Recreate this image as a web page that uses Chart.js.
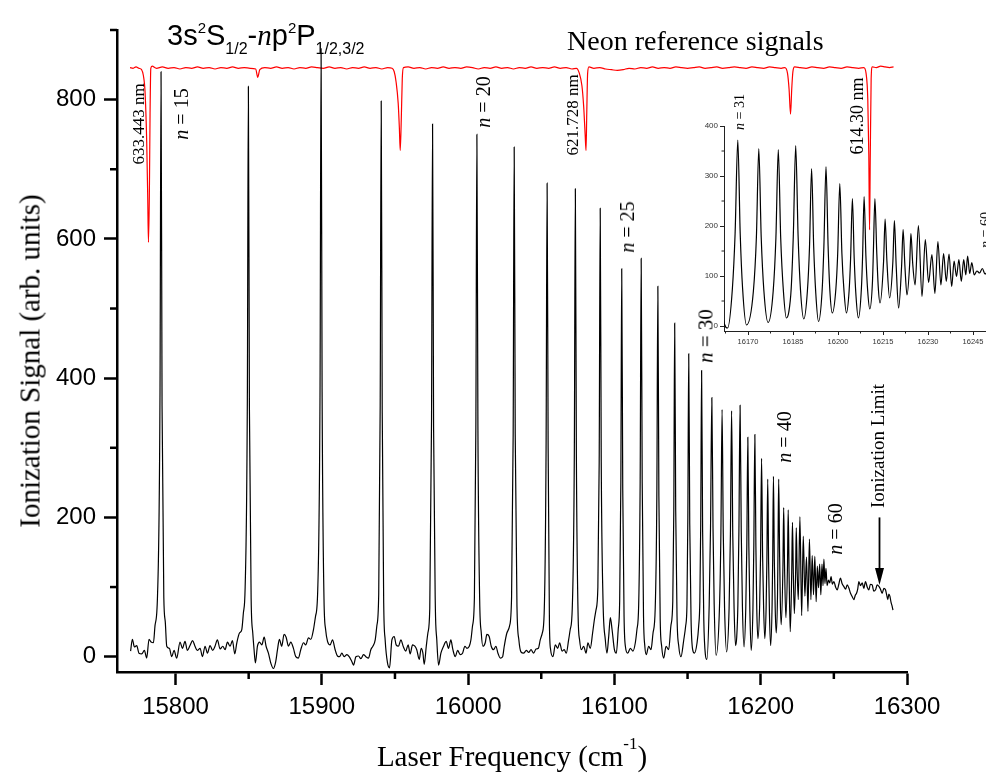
<!DOCTYPE html>
<html>
<head>
<meta charset="utf-8">
<script src="https://cdn.jsdelivr.net/npm/chart.js@4.4.1/dist/chart.umd.min.js"></script>
<style>
html,body{margin:0;padding:0;background:#fff;}
body{width:986px;height:774px;overflow:hidden;position:relative;}
canvas{position:absolute;}
#inset{left:690px;top:110px;}
#main{left:0;top:0;}
.lbl{position:absolute;white-space:nowrap;font-family:"Liberation Serif","Times New Roman",serif;color:#000;line-height:1;}
.sans{font-family:"Liberation Sans",Arial,sans-serif;}
.rot{transform:translate(-50%,-50%) rotate(-90deg);}
.sup{position:relative;}
.sub{position:relative;}
</style>
</head>
<body>
<canvas id="inset" width="322" height="250"></canvas>
<canvas id="main" width="986" height="774"></canvas>

<div class="lbl sans" style="left:167px;top:20.5px;font-size:29px">3s<span class="sup" style="font-size:15px;top:-12px">2</span>S<span class="sub" style="font-size:16px;top:9px">1/2</span>-<i style="font-family:'Liberation Serif',serif">n</i>p<span class="sup" style="font-size:15px;top:-12px">2</span>P<span class="sub" style="font-size:16px;top:9px">1/2,3/2</span></div>
<div class="lbl" style="left:567px;top:26.5px;font-size:28px">Neon reference signals</div>
<div class="lbl" style="left:512px;top:741.7px;font-size:29px;transform:translateX(-50%)">Laser Frequency (cm<span class="sup" style="font-size:17px;top:-17px">-1</span>)</div>
<div class="lbl rot" style="left:30px;top:361px;font-size:29px">Ionization Signal (arb. units)</div>

<div class="lbl rot" style="left:138px;top:124px;font-size:17px">633.443 nm</div>
<div class="lbl rot" style="left:181px;top:114px;font-size:20px"><i>n</i> = 15</div>
<div class="lbl rot" style="left:483px;top:102px;font-size:20px"><i>n</i> = 20</div>
<div class="lbl rot" style="left:572px;top:115px;font-size:17px">621.728 nm</div>
<div class="lbl rot" style="left:627px;top:227px;font-size:20px"><i>n</i> = 25</div>
<div class="lbl rot" style="left:706px;top:336px;font-size:21px"><i>n</i> = 30</div>
<div class="lbl rot" style="left:857px;top:116px;font-size:18px">614.30 nm</div>
<div class="lbl rot" style="left:740px;top:112px;font-size:14px"><i>n</i> = 31</div>
<div class="lbl rot" style="left:986px;top:230px;font-size:14px"><i>n</i> = 60</div>
<div class="lbl rot" style="left:784px;top:437px;font-size:20px"><i>n</i> = 40</div>
<div class="lbl rot" style="left:835px;top:529px;font-size:20px"><i>n</i> = 60</div>
<div class="lbl rot" style="left:877px;top:446px;font-size:19px">Ionization Limit</div>

<script>
// ---------------- data ----------------
// Ionization signal trace (laser frequency in cm^-1, signal in arb. units)
const freq = [
  15769.3,15770.5,15771.9,15773.5,15775.0,15776.9,15778.7,15780.3,15781.9,15783.3,15784.9,15786.0,15787.7,15789.4,15790.1,15790.8,15792.0,15793.0,15794.0,
  15795.8,15797.4,15799.0,15800.8,15803.1,15804.7,15806.5,15808.1,15809.9,15811.7,15813.3,15814.9,15816.8,15818.4,15820.2,15821.8,15823.6,15825.4,15827.0,15828.6,
  15830.5,15832.3,15833.9,15835.5,15837.3,15838.9,15840.5,15841.9,15843.7,15845.3,15846.4,15847.6,15849.1,15849.8,15850.5,15851.7,15852.8,15853.7,
  15854.6,15856.0,15857.4,15859.0,15860.6,15861.9,15863.5,15865.1,15866.9,15868.5,15869.7,15871.0,15872.6,15874.2,15875.6,15877.2,15878.8,15880.6,15882.2,15884.0,
  15885.6,15887.5,15889.0,15890.9,15892.5,15894.3,15895.7,15897.2,15898.8,15899.5,15900.2,15901.5,15902.6,15903.9,
  15905.7,15907.3,15909.1,15910.7,15912.1,15913.7,15915.3,15917.1,15918.7,15920.5,15921.7,15923.3,15925.1,15926.7,15928.5,15930.1,15931.9,15933.5,15934.9,15936.5,
  15937.6,15938.9,15939.9,15940.6,15941.3,15942.3,15943.3,15944.9,15946.3,
  15947.9,15949.5,15950.8,15952.4,15954.0,15955.8,15957.4,15959.0,15960.4,15962.0,15963.6,15964.9,15966.6,15967.9,15969.1,15970.0,15971.4,15972.5,
  15973.8,15975.0,15975.7,15976.4,15977.6,15978.6,15979.8,
  15981.4,15983.2,15985.0,15986.6,15988.2,15989.6,15991.2,15992.8,15994.6,15996.2,15997.8,15999.2,16000.8,16001.9,16003.0,
  16004.3,16005.3,16006.0,16006.7,16007.9,16009.0,
  16010.1,16011.7,16012.8,16014.4,16015.8,16017.4,16019.0,16020.4,16022.0,16023.6,16024.7,16026.5,16028.3,
  16029.7,16030.8,16031.5,16032.2,16033.4,16034.7,
  16036.1,16037.9,16039.8,16041.4,16043.0,16044.8,16046.4,16048.0,16049.3,16050.7,16052.0,
  16053.3,16054.0,16054.7,16055.6,16056.4,
  16058.0,16059.6,16061.2,16062.6,16064.2,16065.7,16067.1,16068.7,16069.8,16071.2,
  16072.6,16073.3,16074.0,16075.2,16076.2,
  16077.4,16079.0,16080.6,16081.9,16083.5,16085.1,16086.3,16087.4,16088.7,
  16089.6,16090.3,16091.0,16092.2,16093.8,
  16094.9,16096.1,16097.2,16098.4,16100.0,16101.3,16102.6,16103.6,
  16104.4,16105.0,16105.7,16106.6,16107.5,
  16109.1,16110.9,16112.7,16114.3,16115.4,16116.6,
  16117.6,16118.3,16119.0,16119.9,16120.8,
  16121.8,16123.4,16125.0,16126.4,16127.9,
  16129.0,16129.7,16130.4,16131.3,16132.3,
  16133.7,16135.3,16137.1,16138.6,16139.9,
  16140.6,16141.2,16141.9,16142.8,16144.0,
  16145.5,16147.4,16148.7,16149.6,
  16150.2,16150.8,16151.5,16152.4,16153.5,
  16154.7,16156.5,16157.6,16158.4,
  16159.0,16159.6,16160.3,16161.1,16162.2,16163.2,
  16164.8,16165.7,16166.6,16167.4,16168.2,16169.5,
  16171.8,16172.8,16173.6,16174.4,16175.3,16176.7,
  16178.4,16179.3,16180.1,16180.9,16181.8,16182.8,16183.6,
  16184.4,16185.1,16185.9,16186.7,16187.5,16188.6,
  16189.8,16190.5,16191.2,16191.9,16192.6,16193.5,
  16194.7,16195.3,16196.0,16196.7,16197.3,16198.1,
  16199.3,16199.9,16200.6,16201.3,16202.0,16202.8,
  16203.7,16204.2,16204.8,16205.4,16206.0,16206.8,
  16207.8,16208.2,16208.7,16209.3,16209.9,16210.6,
  16211.5,16211.8,16212.3,16212.9,16213.4,16214.0,
  16215.2,16215.7,16216.3,16217.2,
  16218.3,16218.8,16219.4,16220.2,
  16221.2,16221.7,16222.3,16223.0,
  16223.9,16224.3,16224.9,16225.7,
  16226.8,16228.0,16229.1,16230.2,16231.3,16232.3,16233.3,16234.3,16235.2,16236.1,
  16237.0,16237.9,16238.7,16239.5,16240.3,16241.1,16241.9,16242.6,16243.2,16243.9,16244.6,
  16245.4,16246.3,16247.2,16248.1,16249.0,16250.0,16251.2,16252.3,16253.4,16254.5,16255.6,16256.8,16258.0,16259.1,16260.2,16261.4,16262.6,16263.7,16264.6,16265.5,
  16266.3,16267.1,16268.2,16269.4,16270.5,16271.6,16272.8,16273.9,16275.0,16276.2,16277.3,16278.5,16279.6,16280.8,16281.9,16283.0,16284.2,16285.3,16286.2,16286.9,16287.6,16288.3,16289.1,16289.9,16290.4
];
const signal = [
  8,25,14,16,5,4,9,-2,25,21,20,45,88,380,840,360,85,50,15,
  12,0,9,-2,21,12,22,9,16,23,15,9,12,0,15,5,16,9,15,24,
  11,15,10,21,15,23,4,20,34,39,63,100,370,819,360,82,34,10,
  -9,15,21,17,28,15,5,-9,-17,-7,10,25,15,32,28,15,21,12,0,-2,
  10,20,17,27,25,39,58,95,390,873,380,82,39,22,
  17,24,10,1,0,5,0,3,0,-7,-12,0,1,-3,3,0,-2,10,15,24,
  44,90,360,798,350,77,24,-9,-16,
  24,29,17,15,24,14,8,17,4,17,15,10,-4,12,5,-11,15,34,
  70,340,765,330,72,24,-12,
  5,15,22,12,24,10,0,9,3,5,15,12,15,24,44,
  85,330,750,330,82,34,
  15,20,32,29,15,10,15,5,-2,0,15,34,44,
  85,320,732,320,72,24,
  7,5,9,6,10,5,11,12,24,34,63,
  300,680,300,45,10,
  0,17,12,20,8,10,5,24,39,70,
  290,672,290,58,24,
  10,15,5,20,12,34,53,67,100,
  280,644,280,82,24,
  5,29,56,39,10,5,39,80,
  250,557,240,58,15,
  5,12,8,20,39,75,
  250,572,250,58,15,
  3,15,10,34,70,
  230,532,230,53,15,
  -2,15,10,44,80,
  210,479,210,58,15,
  0,24,44,75,
  200,435,190,53,10,
  5,20,44,80,
  190,411,180,53,3,-4,
  75,185,372,185,75,2,
  70,178,355,178,70,7,
  70,176,353,176,70,16,28,
  75,180,361,180,72,14,
  70,158,315,158,65,9,
  70,160,319,160,70,26,
  75,145,285,145,70,26,
  70,135,255,135,60,16,
  75,140,259,140,70,34,
  90,150,255,150,80,46,
  130,214,130,56,
  130,211,120,36,
  120,193,120,62,
  125,185,125,82,
  201,59,173,87,143,65,169,82,145,89,
  144,79,130,99,133,89,133,102,140,105,127,
  102,110,106,115,104,108,100,96,104,113,105,101,97,103,99,91,86,82,88,91,
  97,108,102,106,98,108,100,96,104,103,94,96,103,101,97,91,98,96,88,82,90,87,78,72,67
];

// Neon reference (optogalvanic) signal
const neonFreq = [
  15768.9,15771.0,15773.0,15775.0,15776.8,15778.0,15779.2,15780.3,15781.0,15781.5,15782.1,15782.6,15783.1,15784.0,
  15787.0,15791.0,15795.0,15799.0,15803.0,15807.0,15811.0,15815.0,15819.0,15823.0,15827.0,15831.0,15835.0,15839.0,15843.0,15847.0,15851.0,15854.8,15856.2,15857.6,
  15861.0,15865.0,15869.0,15873.0,15877.0,15881.0,15885.0,15889.0,15893.0,15897.0,15901.0,15905.0,15909.0,15913.0,15917.0,15921.0,15925.0,15929.0,15933.0,15937.0,15941.0,15945.0,
  15948.0,15949.5,15950.8,15952.2,15953.0,15953.6,15954.3,15955.0,15955.8,
  15959.0,15963.0,15967.0,15971.0,15975.0,15979.0,15983.0,15987.0,15991.0,15995.0,15999.0,16003.0,16007.0,16011.0,16015.0,16019.0,16023.0,16027.0,16031.0,16035.0,16039.0,16043.0,16047.0,16051.0,16055.0,16059.0,16063.0,16067.0,16071.0,16074.0,
  16076.0,16077.8,16079.0,16080.0,16080.6,16081.1,16081.7,16082.6,
  16086.0,16090.0,16094.0,16098.0,16102.0,16106.0,16110.0,16114.0,16118.0,16122.0,16126.0,16130.0,16134.0,16138.0,16142.0,16146.0,16150.0,16154.0,16158.0,16162.0,16166.0,16170.0,16174.0,16178.0,16182.0,16186.0,16190.0,16194.0,16198.0,16202.0,16206.0,16210.0,16214.0,16216.5,
  16218.3,16219.4,16220.4,16221.2,16222.0,16223.2,
  16227.0,16231.0,16235.0,16239.0,16243.0,16247.0,16251.0,16255.0,16259.0,16263.0,16267.0,16270.5,
  16272.0,16273.2,16273.9,16274.4,16274.9,16275.5,16276.3,
  16279.0,16282.0,16285.0,16288.0,16290.8
];
const neonSignal = [
  846,845,847,845,843,835,810,740,660,595,660,780,845,848,
  845,847,845,846,844,846,845,847,845,846,844,846,845,847,845,846,845,844,832,843,
  846,845,847,845,846,844,846,845,847,846,845,847,845,846,844,846,845,847,845,846,844,846,
  845,840,825,795,760,727,770,830,846,
  847,845,846,844,846,845,847,845,846,845,847,846,844,846,845,847,845,846,844,846,845,847,845,846,845,847,845,846,844,845,
  838,820,790,750,727,780,838,847,
  845,846,844,843,842,843,845,844,846,845,847,845,846,845,847,846,845,846,847,845,846,847,845,846,847,846,845,847,846,845,847,846,845,846,
  838,815,779,815,840,847,
  846,845,847,846,845,847,846,845,847,846,845,846,
  838,800,720,613,720,830,847,
  846,848,847,846,847
];

// axes / ticks
const xTicks = [15800, 15900, 16000, 16100, 16200, 16300];
const xMinor = [15850, 15950, 16050, 16150, 16250];
const yTicks = [0, 200, 400, 600, 800];
const yMinor = [100, 300, 500, 700, 900];
const insetXTicks = [16170, 16185, 16200, 16215, 16230, 16245];
const insetXMinor = [16162.5, 16177.5, 16192.5, 16207.5, 16222.5, 16237.5, 16252.5];
const insetYTicks = [0, 100, 200, 300, 400];
const insetYMinor = [50, 150, 250, 350];
const ionizationLimit = 16281.2;

// ---------------- chart ----------------
const pairs = (xs, ys) => xs.slice(0, Math.min(xs.length, ys.length)).map((x, i) => ({x: x, y: ys[i]}));
const trace = pairs(freq, signal);
const neon = pairs(neonFreq, neonSignal);
const SANS = '"Liberation Sans", Arial, sans-serif';

const minorTicks = {
  id: 'minorTicks',
  afterDraw(chart, args, o) {
    const ctx = chart.ctx, xs = chart.scales.x, ys = chart.scales.y, a = chart.chartArea;
    ctx.save();
    ctx.strokeStyle = o.color; ctx.lineWidth = o.width;
    (o.x || []).forEach(v => {
      const p = xs.getPixelForValue(v);
      ctx.beginPath(); ctx.moveTo(p, a.bottom); ctx.lineTo(p, a.bottom + o.len); ctx.stroke();
    });
    (o.y || []).forEach(v => {
      const p = ys.getPixelForValue(v);
      ctx.beginPath(); ctx.moveTo(a.left, p); ctx.lineTo(a.left - o.len, p); ctx.stroke();
    });
    ctx.restore();
  }
};

const arrow = {
  id: 'arrow',
  afterDatasetsDraw(chart, args, o) {
    if (!o || o.x === undefined) return;
    const ctx = chart.ctx, xs = chart.scales.x, ys = chart.scales.y;
    const px = xs.getPixelForValue(o.x), y1 = ys.getPixelForValue(o.from), y2 = ys.getPixelForValue(o.to);
    ctx.save();
    ctx.strokeStyle = '#000'; ctx.fillStyle = '#000'; ctx.lineWidth = o.width;
    ctx.beginPath(); ctx.moveTo(px, y1); ctx.lineTo(px, y2 - o.head + 1); ctx.stroke();
    ctx.beginPath(); ctx.moveTo(px - o.half, y2 - o.head); ctx.lineTo(px + o.half, y2 - o.head); ctx.lineTo(px, y2); ctx.closePath(); ctx.fill();
    ctx.restore();
  }
};

new Chart(document.getElementById('main'), {
  type: 'line',
  data: {
    datasets: [
      {data: trace, borderColor: '#000', borderWidth: 1.2, pointRadius: 0, cubicInterpolationMode: 'monotone', fill: false},
      {data: neon, borderColor: '#ff0000', borderWidth: 1.2, pointRadius: 0, cubicInterpolationMode: 'monotone', fill: false}
    ]
  },
  options: {
    responsive: false, animation: false, devicePixelRatio: 1, parsing: false,
    layout: {padding: {top: 30, right: 79, left: 0, bottom: 0}},
    plugins: {
      legend: {display: false}, tooltip: {enabled: false},
      minorTicks: {x: xMinor, y: yMinor, len: 7, width: 2.5, color: '#000'},
      arrow: {x: ionizationLimit, from: 200, to: 103, head: 17, half: 4.5, width: 1.8}
    },
    scales: {
      x: {
        type: 'linear', min: 15760, max: 16300,
        afterBuildTicks: s => { s.ticks = xTicks.map(v => ({value: v})); },
        afterFit: s => { s.height = 102; },
        border: {display: true, color: '#000', width: 2.5},
        grid: {display: true, drawOnChartArea: false, drawTicks: true, tickLength: 13, tickWidth: 2.5, tickColor: '#000'},
        ticks: {color: '#000', font: {family: SANS, size: 24}, padding: 8, maxRotation: 0, autoSkip: false, callback: v => String(v)}
      },
      y: {
        type: 'linear', min: -22, max: 900,
        afterBuildTicks: s => { s.ticks = yTicks.map(v => ({value: v})); },
        afterFit: s => { s.width = 117; },
        border: {display: true, color: '#000', width: 2.5},
        grid: {display: true, drawOnChartArea: false, drawTicks: true, tickLength: 13, tickWidth: 2.5, tickColor: '#000'},
        ticks: {color: '#000', font: {family: SANS, size: 24}, padding: 8, autoSkip: false, callback: v => String(v)}
      }
    }
  },
  plugins: [minorTicks, arrow]
});

new Chart(document.getElementById('inset'), {
  type: 'line',
  data: {
    datasets: [
      {data: trace, borderColor: '#000', borderWidth: 1.2, pointRadius: 0, cubicInterpolationMode: 'monotone', fill: false}
    ]
  },
  options: {
    responsive: false, animation: false, devicePixelRatio: 1, parsing: false,
    layout: {padding: {top: 16, right: 0, left: 0, bottom: 0}},
    plugins: {
      legend: {display: false}, tooltip: {enabled: false},
      minorTicks: {x: insetXMinor, y: insetYMinor, len: 2.5, width: 1, color: '#222'}
    },
    scales: {
      x: {
        type: 'linear', min: 16162, max: 16258,
        afterBuildTicks: s => { s.ticks = insetXTicks.map(v => ({value: v})); },
        afterFit: s => { s.height = 29; },
        border: {display: true, color: '#222', width: 1},
        grid: {display: true, drawOnChartArea: false, drawTicks: true, tickLength: 4, tickWidth: 1, tickColor: '#222'},
        ticks: {color: '#333', font: {family: SANS, size: 7.5}, padding: 2, maxRotation: 0, autoSkip: false, callback: v => String(v)}
      },
      y: {
        type: 'linear', min: -10, max: 400,
        afterBuildTicks: s => { s.ticks = insetYTicks.map(v => ({value: v})); },
        afterFit: s => { s.width = 34; },
        border: {display: true, color: '#222', width: 1},
        grid: {display: true, drawOnChartArea: false, drawTicks: true, tickLength: 4, tickWidth: 1, tickColor: '#222'},
        ticks: {color: '#333', font: {family: SANS, size: 8}, padding: 2, autoSkip: false, callback: v => String(v)}
      }
    }
  },
  plugins: [minorTicks]
});
</script>
</body>
</html>
